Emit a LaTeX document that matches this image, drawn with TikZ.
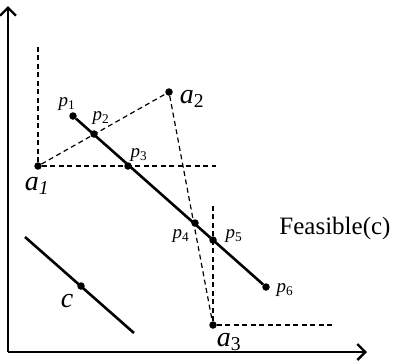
\documentclass[tikz,border=0pt]{standalone}
\usepackage{fontspec}
\setmainfont{Liberation Serif}
\usetikzlibrary{arrows.meta,positioning}
\tikzset{
    dot/.style={circle,fill,inner sep=0pt,minimum size=7.5pt},
    guide/.style={dash pattern=on 5pt off 3.5pt,line width=1.2pt},
    seg/.style={line width=2.6pt},
    axis/.style={line width=2.8pt,-{Straight Barb[length=8pt,width=16pt,line width=2.4pt]}},
    plbl/.style={inner sep=0pt,font=\fontsize{19}{19}\selectfont},
    albl/.style={inner sep=0pt,font=\fontsize{28}{28}\selectfont},
}
\begin{document}
\begin{tikzpicture}[x=1pt,y=-1pt]
    \useasboundingbox (0,0) rectangle (396,362);
    % axes
    \coordinate (O) at (8,352);
    \coordinate (Y) at (8,6);
    \coordinate (X) at (367,352);
    \draw[axis] (O) -- (Y);
    \draw[axis] (O) -- (X);

    % anchor points
    \node[dot] (a1) at (38,166) {};
    \node[dot] (a2) at (169,92) {};
    \node[dot] (a3) at (213,325) {};
    \coordinate (a1up) at (38,47);
    \coordinate (a1rt) at (216,166);
    \coordinate (a3up) at (213,203);
    \coordinate (a3rt) at (333,325);

    % points on the segment
    \node[dot] (p1) at (73,116) {};
    \node[dot] (p2) at (94,134) {};
    \node[dot] (p3) at (128,166) {};
    \node[dot] (p4) at (195,223) {};
    \node[dot] (p5) at (213,240) {};
    \node[dot] (p6) at (266,287) {};

    % c and its line
    \coordinate (c1) at (25,237);
    \coordinate (c2) at (134,333);
    \node[dot] (c) at (81,286) {};

    \draw[guide] (a1) -- (a1up);
    \draw[guide] (a1) -- (a1rt);
    \draw[guide] (a1) -- (a2);
    \draw[guide] (a2) -- (a3);
    \draw[guide] (a3) -- (a3up);
    \draw[guide] (a3) -- (a3rt);
    \draw[seg] (p1) -- (p6);
    \draw[seg] (c1) -- (c2);

    % labels
    \node[albl] (La1) at (37,186) {\textit{a}\textsubscript{\textit{1}}};
    \node[albl] (La2) at (192,99) {\textit{a}\textsubscript{2}};
    \node[albl] (La3) at (229,342) {\textit{a}\textsubscript{3}};
    \node[plbl] (Lp1) at (67,104) {\textit{p}\textsubscript{1}};
    \node[plbl] (Lp2) at (101,118) {\textit{p}\textsubscript{2}};
    \node[plbl] (Lp3) at (139,155) {\textit{p}\textsubscript{3}};
    \node[plbl] (Lp4) at (181,236) {\textit{p}\textsubscript{4}};
    \node[plbl] (Lp5) at (234,236) {\textit{p}\textsubscript{5}};
    \node[plbl] (Lp6) at (285,290) {\textit{p}\textsubscript{6}};
    \node[albl] (Lc) at (67,301) {\textit{c}};
    \node[font=\fontsize{25}{25}\selectfont,inner sep=0pt] (F) at (335,228) {Feasible(c)};
\end{tikzpicture}
\end{document}
